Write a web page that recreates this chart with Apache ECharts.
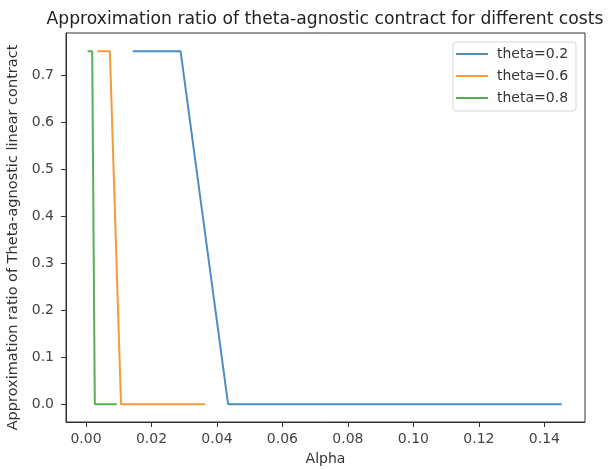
<!DOCTYPE html>
<html>
<head>
<meta charset="utf-8">
<script src="https://cdn.jsdelivr.net/npm/echarts@6/dist/echarts.min.js"></script>
<style>html,body{margin:0;padding:0;background:#fff}#c{width:608px;height:469px}</style>
</head>
<body>
<div id="c"></div>
<script>
const seriesNames = ['theta=0.2', 'theta=0.6', 'theta=0.8'];
const alpha02 = [0.0143, 0.0289, 0.0434, 0.1453];
const ratio02 = [0.75, 0.75, 0, 0];
const alpha06 = [0.0035, 0.0073, 0.0107, 0.0363];
const ratio06 = [0.75, 0.75, 0, 0];
const alpha08 = [0.0005, 0.0019, 0.0027, 0.0094];
const ratio08 = [0.75, 0.75, 0, 0];
const xTicks = [0, 0.02, 0.04, 0.06, 0.08, 0.10, 0.12, 0.14];
const yTicks = [0, 0.1, 0.2, 0.3, 0.4, 0.5, 0.6, 0.7];
const colors = ['#4a8ec8', '#f8993f', '#57b157'];

const pairs = (xs, ys) => xs.map((x, i) => [x, ys[i]]);
const allData = [pairs(alpha02, ratio02), pairs(alpha06, ratio06), pairs(alpha08, ratio08)];

const font = 'DejaVu Sans';
const chart = echarts.init(document.getElementById('c'), null, {renderer: 'canvas'});
chart.setOption({
  animation: false,
  backgroundColor: '#fff',
  title: {
    text: 'Approximation ratio of theta-agnostic contract for different costs',
    left: 320, top: 6, textAlign: 'center',
    textStyle: {fontFamily: font, fontSize: 17.2, fontWeight: 'normal', color: '#222'}
  },
  legend: {
    left: 453, top: 42, orient: 'vertical',
    data: seriesNames,
    icon: 'rect', itemWidth: 32, itemHeight: 2, itemGap: 8,
    padding: [5, 8, 6, 3],
    borderColor: '#d6d6d6', borderWidth: 1, borderRadius: 3,
    textStyle: {fontFamily: font, fontSize: 14, lineHeight: 14, color: '#333', padding: [0, 0, 0, 4]}
  },
  grid: {left: 66, right: 23, top: 33, bottom: 47, outerBoundsMode: 'none', show: true, borderColor: '#333', borderWidth: 1},
  xAxis: {
    type: 'value', min: -0.0061, max: 0.1524,
    name: 'Alpha', nameLocation: 'middle', nameGap: 30,
    nameTextStyle: {fontFamily: font, fontSize: 14, color: '#333'},
    axisLine: {show: true, onZero: false, lineStyle: {color: '#333', width: 1}},
    axisTick: {show: true, length: 5, lineStyle: {color: '#333'}, customValues: xTicks},
    axisLabel: {fontFamily: font, fontSize: 14, color: '#444', margin: 10, customValues: xTicks,
      formatter: v => v.toFixed(2)},
    splitLine: {show: false}
  },
  yAxis: {
    type: 'value', min: -0.038, max: 0.789,
    name: 'Approximation ratio of Theta-agnostic linear contract', nameLocation: 'middle', nameGap: 38,
    nameTextStyle: {fontFamily: font, fontSize: 14.5, color: '#333', padding: [0, 20, 0, 0]},
    axisLine: {show: true, onZero: false, lineStyle: {color: '#333', width: 1}},
    axisTick: {show: true, length: 5, lineStyle: {color: '#333'}, customValues: yTicks},
    axisLabel: {fontFamily: font, fontSize: 14, color: '#444', margin: 12, customValues: yTicks,
      formatter: v => v.toFixed(1)},
    splitLine: {show: false}
  },
  series: seriesNames.map((n, i) => ({
    name: n, type: 'line', data: allData[i], showSymbol: false, symbol: 'none',
    color: colors[i], lineStyle: {width: 2, color: colors[i]}
  }))
});
</script>
</body>
</html>
